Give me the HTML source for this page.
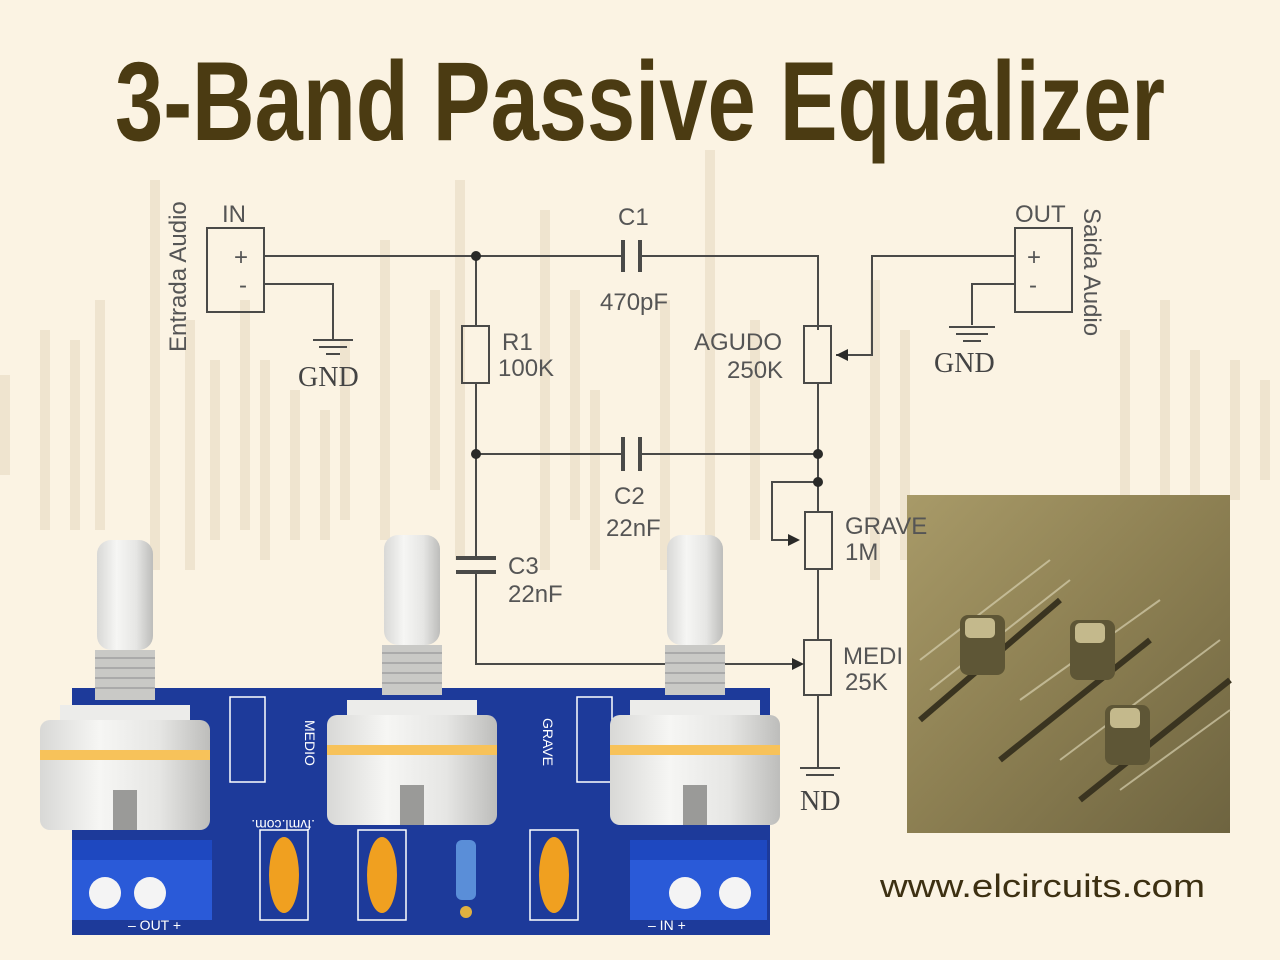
<!DOCTYPE html>
<html><head><meta charset="utf-8"><style>
html,body{margin:0;padding:0;background:#fbf3e3;}
svg{display:block}
</style></head><body>
<svg width="1280" height="960" viewBox="0 0 1280 960" xmlns="http://www.w3.org/2000/svg">
<defs>
<linearGradient id="cyl" x1="0" x2="1">
<stop offset="0" stop-color="#d8d8d6"/><stop offset="0.35" stop-color="#f6f6f4"/><stop offset="0.7" stop-color="#e6e6e4"/><stop offset="1" stop-color="#bdbdbb"/></linearGradient>
<linearGradient id="ph" x1="0" y1="0" x2="1" y2="1">
<stop offset="0" stop-color="#a89a68"/><stop offset="0.5" stop-color="#8c7f52"/><stop offset="1" stop-color="#6e6440"/></linearGradient>
<g id="pot">
<rect x="-28" y="0" width="56" height="110" rx="14" fill="url(#cyl)"/>
<rect x="-30" y="110" width="60" height="50" fill="#c9c9c6"/>
<g stroke="#aaa" stroke-width="2"><line x1="-30" y1="118" x2="30" y2="118"/><line x1="-30" y1="128" x2="30" y2="128"/><line x1="-30" y1="138" x2="30" y2="138"/><line x1="-30" y1="148" x2="30" y2="148"/></g>
<rect x="-65" y="165" width="130" height="30" fill="#ececea"/>
<rect x="-85" y="180" width="170" height="110" rx="10" fill="url(#cyl)"/>
<rect x="-85" y="210" width="170" height="10" fill="#f7c25a"/>
<rect x="-12" y="250" width="24" height="40" fill="#9a9a98"/>
</g>
</defs>
<rect width="1280" height="960" fill="#fbf3e3"/>
<g fill="#efe4cf">
<rect x="0" y="375" width="10" height="100"/><rect x="40" y="330" width="10" height="200"/><rect x="70" y="340" width="10" height="190"/><rect x="95" y="300" width="10" height="230"/><rect x="150" y="180" width="10" height="390"/><rect x="185" y="320" width="10" height="250"/><rect x="210" y="360" width="10" height="180"/><rect x="240" y="300" width="10" height="230"/><rect x="260" y="360" width="10" height="200"/><rect x="290" y="390" width="10" height="150"/><rect x="320" y="410" width="10" height="130"/><rect x="340" y="340" width="10" height="180"/><rect x="380" y="240" width="10" height="300"/><rect x="430" y="290" width="10" height="200"/><rect x="455" y="180" width="10" height="380"/><rect x="540" y="210" width="10" height="360"/><rect x="570" y="290" width="10" height="230"/><rect x="590" y="390" width="10" height="180"/><rect x="660" y="300" width="10" height="270"/><rect x="705" y="150" width="10" height="420"/><rect x="750" y="320" width="10" height="220"/><rect x="870" y="280" width="10" height="300"/><rect x="900" y="330" width="10" height="230"/><rect x="1120" y="330" width="10" height="170"/><rect x="1160" y="300" width="10" height="200"/><rect x="1190" y="350" width="10" height="150"/><rect x="1230" y="360" width="10" height="140"/><rect x="1260" y="380" width="10" height="100"/>
</g>
<text x="115" y="140" textLength="1050" lengthAdjust="spacingAndGlyphs" font-family="Liberation Sans, sans-serif" font-weight="bold" font-size="112" fill="#4b3b12">3-Band Passive Equalizer</text>
<g stroke="#4a4a48" stroke-width="2" fill="none">
<rect x="207" y="228" width="57" height="84"/>
<rect x="1015" y="228" width="57" height="84"/>
<polyline points="264,256 622,256"/><polyline points="640,256 818,256 818,330"/>
<line x1="623" y1="240" x2="623" y2="272" stroke-width="4"/><line x1="640" y1="240" x2="640" y2="272" stroke-width="4"/>
<polyline points="264,284 333,284 333,340"/>
<line x1="313" y1="340" x2="353" y2="340"/><line x1="319" y1="347" x2="347" y2="347"/><line x1="326" y1="354" x2="340" y2="354"/>
<line x1="476" y1="256" x2="476" y2="326"/><rect x="462" y="326" width="27" height="57"/>
<line x1="476" y1="383" x2="476" y2="454"/>
<polyline points="476,454 622,454"/><polyline points="640,454 818,454"/>
<line x1="623" y1="437" x2="623" y2="471" stroke-width="4"/><line x1="640" y1="437" x2="640" y2="471" stroke-width="4"/>
<line x1="476" y1="454" x2="476" y2="557"/>
<line x1="456" y1="558" x2="496" y2="558" stroke-width="4"/><line x1="456" y1="572" x2="496" y2="572" stroke-width="4"/>
<polyline points="476,573 476,664 800,664"/>
<rect x="804" y="326" width="27" height="57"/>
<polyline points="818,383 818,512"/>
<polyline points="1015,256 872,256 872,355 836,355"/>
<polyline points="1015,284 972,284 972,325"/>
<line x1="949" y1="327" x2="995" y2="327"/><line x1="956" y1="334" x2="988" y2="334"/><line x1="963" y1="341" x2="981" y2="341"/>
<rect x="805" y="512" width="27" height="57"/>
<polyline points="818,482 772,482 772,540 798,540"/>
<line x1="818" y1="569" x2="818" y2="640"/><rect x="804" y="640" width="27" height="55"/>
<line x1="818" y1="695" x2="818" y2="768"/>
<line x1="800" y1="768" x2="840" y2="768"/><line x1="806" y1="775" x2="834" y2="775"/>
</g>
<g fill="#2a2a28">
<circle cx="476" cy="256" r="5"/><circle cx="476" cy="454" r="5"/><circle cx="818" cy="454" r="5"/><circle cx="818" cy="482" r="5"/>
<polygon points="836,355 848,349 848,361"/><polygon points="800,540 788,534 788,546"/><polygon points="804,664 792,658 792,670"/>
</g>
<rect x="907" y="495" width="323" height="338" fill="url(#ph)"/>
<g stroke="#3a3420" stroke-width="6"><line x1="920" y1="720" x2="1060" y2="600"/><line x1="1000" y1="760" x2="1150" y2="640"/><line x1="1080" y1="800" x2="1230" y2="680"/></g>
<g stroke="#d6cfae" stroke-width="2" opacity="0.7"><line x1="920" y1="660" x2="1050" y2="560"/><line x1="930" y1="690" x2="1070" y2="580"/><line x1="1020" y1="700" x2="1160" y2="600"/><line x1="1060" y1="760" x2="1220" y2="640"/><line x1="1120" y1="790" x2="1230" y2="710"/></g>
<g fill="#5e5636"><rect x="960" y="615" width="45" height="60" rx="8"/><rect x="1070" y="620" width="45" height="60" rx="8"/><rect x="1105" y="705" width="45" height="60" rx="8"/></g>
<g fill="#c4b98c"><rect x="965" y="618" width="30" height="20" rx="5"/><rect x="1075" y="623" width="30" height="20" rx="5"/><rect x="1110" y="708" width="30" height="20" rx="5"/></g>
<g font-family="Liberation Sans, sans-serif" font-size="24" fill="#555">
<text x="222" y="222">IN</text><text x="1015" y="222">OUT</text>
<text x="234" y="265">+</text><text x="239" y="293">-</text><text x="1027" y="265">+</text><text x="1029" y="293">-</text>
<text x="618" y="225">C1</text><text x="600" y="310">470pF</text>
<text x="502" y="350">R1</text><text x="498" y="376">100K</text>
<text x="694" y="350">AGUDO</text><text x="727" y="378">250K</text>
<text x="614" y="504">C2</text><text x="606" y="536">22nF</text>
<text x="508" y="574">C3</text><text x="508" y="602">22nF</text>
<text x="845" y="534">GRAVE</text><text x="845" y="560">1M</text>
<text x="843" y="664">MEDI</text><text x="845" y="690">25K</text>
<text transform="translate(186,352) rotate(-90)">Entrada Audio</text>
<text transform="translate(1084,208) rotate(90)">Saida Audio</text>
</g>
<g font-family="Liberation Serif, serif" font-size="28" fill="#444">
<text x="298" y="386">GND</text><text x="934" y="372">GND</text><text x="800" y="810">ND</text>
</g>
<rect x="72" y="688" width="698" height="247" fill="#1d3a9a"/>
<g stroke="#fff" stroke-width="1.5" fill="none"><rect x="230" y="697" width="35" height="85"/><rect x="577" y="697" width="35" height="85"/><rect x="260" y="830" width="48" height="90"/><rect x="358" y="830" width="48" height="90"/><rect x="530" y="830" width="48" height="90"/></g>
<g fill="#f0a020"><ellipse cx="284" cy="875" rx="15" ry="38"/><ellipse cx="382" cy="875" rx="15" ry="38"/><ellipse cx="554" cy="875" rx="15" ry="38"/></g>
<rect x="456" y="840" width="20" height="60" rx="6" fill="#5a8ed8"/><circle cx="466" cy="912" r="6" fill="#e0b040"/>
<g font-family="Liberation Sans, sans-serif" font-size="14" fill="#fff">
<text transform="translate(305,720) rotate(90)">MEDIO</text><text transform="translate(543,718) rotate(90)">GRAVE</text>
<text x="128" y="930">– OUT +</text><text x="648" y="930">– IN +</text>
<text x="265" y="830" transform="rotate(180,290,825)">.fvml.com.</text>
</g>
<g>
<rect x="72" y="840" width="140" height="80" fill="#2a5ad8"/><rect x="72" y="840" width="140" height="20" fill="#1e48c0"/>
<circle cx="105" cy="893" r="16" fill="#f4f4f4"/><circle cx="150" cy="893" r="16" fill="#f4f4f4"/>
<rect x="630" y="840" width="137" height="80" fill="#2a5ad8"/><rect x="630" y="840" width="137" height="20" fill="#1e48c0"/>
<circle cx="685" cy="893" r="16" fill="#f4f4f4"/><circle cx="735" cy="893" r="16" fill="#f4f4f4"/>
</g>
<use href="#pot" x="125" y="540"/>
<use href="#pot" x="412" y="535"/>
<use href="#pot" x="695" y="535"/>
<text x="880" y="897" textLength="325" lengthAdjust="spacingAndGlyphs" font-family="Liberation Sans, sans-serif" font-size="32" fill="#3d3012">www.elcircuits.com</text>
</svg>
</body></html>
